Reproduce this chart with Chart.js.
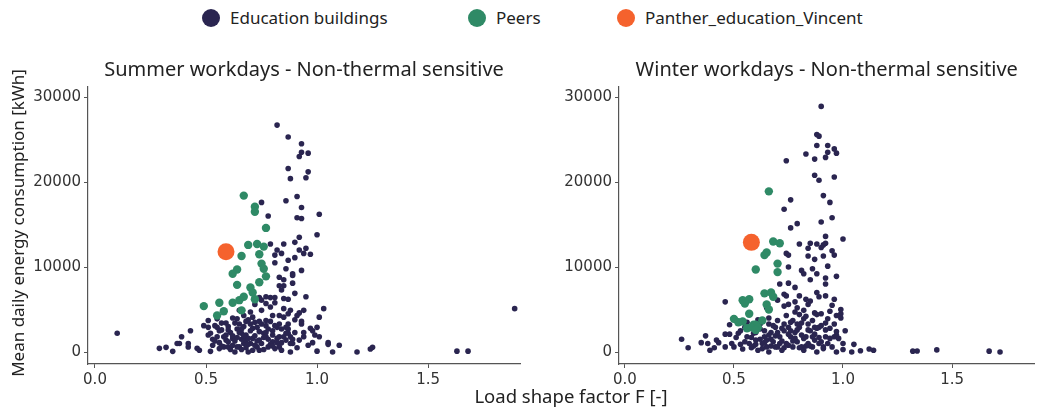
<!DOCTYPE html>
<html>
<head>
<meta charset="utf-8">
<script src="https://cdn.jsdelivr.net/npm/chart.js@4.4.1/dist/chart.umd.min.js"></script>
<style>
  body { margin: 0; background: #fff; font-family: "Noto Sans", sans-serif; color: #222; }
  #wrap { position: relative; width: 1043px; height: 410px; overflow: hidden; }
  canvas { position: absolute; }
  .leg { position: absolute; top: 6px; font-size: 17px; line-height: 24px; white-space: nowrap; color: #222; }
  .leg i { position: absolute; left: -28px; top: 3px; width: 18px; height: 18px; border-radius: 50%; }
  #xtitle { position: absolute; left: 371px; width: 400px; top: 383px; text-align: center; font-size: 18.5px; color: #222; }
  #ytitle { position: absolute; left: -182px; top: 211px; width: 400px; line-height: 24px; text-align: center;
            font-size: 17px; color: #222; transform: rotate(-90deg); }
</style>
</head>
<body>
<div id="wrap">
  <div class="leg" style="left:230px"><i style="background:#2a2550"></i>Education buildings</div>
  <div class="leg" style="left:496px"><i style="background:#2f8a66"></i>Peers</div>
  <div class="leg" style="left:645px"><i style="background:#f5622d"></i>Panther_education_Vincent</div>
  <canvas id="summer" width="530" height="350" style="left:0;top:40px"></canvas>
  <canvas id="winter" width="513" height="350" style="left:530px;top:40px"></canvas>
  <div id="xtitle">Load shape factor F [-]</div>
  <div id="ytitle">Mean daily energy consumption [kWh]</div>
</div>
<script>
const seriesNames = ["Education buildings", "Peers", "Panther_education_Vincent"];
const panelTitles = ["Summer workdays - Non-thermal sensitive", "Winter workdays - Non-thermal sensitive"];
const xTickValues = [0, 0.5, 1, 1.5];
const xTickLabels = ["0.0", "0.5", "1.0", "1.5"];
const yTickValues = [0, 10000, 20000, 30000];
const yTickLabels = ["0", "10000", "20000", "30000"];

// [load shape factor, mean daily consumption kWh]
const summerEducation = [
  [0.82,26700],[0.87,25300],[0.93,24500],[0.93,23500],[0.92,23000],[0.96,23400],[0.87,21600],[0.88,20400],
  [0.96,21200],[0.95,20500],[0.86,17800],[0.91,18300],[0.75,17600],[0.93,17000],[0.78,16000],[0.91,15800],
  [0.93,15700],[1.01,16200],[1.0,13800],[0.92,13500],[0.9,12900],[0.79,12700],[0.85,12700],[0.82,12000],
  [0.84,11600],[0.81,11400],[0.92,12000],[0.94,11600],[0.97,11500],[0.9,11100],[0.87,10800],[0.81,10500],
  [0.86,9800],[0.89,9200],[0.89,9000],[0.83,8800],[0.85,8500],[0.83,7800],[0.85,7800],[0.9,6900],
  [0.95,6500],[0.79,6400],[0.81,6400],[0.85,6300],[0.87,6200],[0.74,6400],[0.75,6100],[0.77,5700],
  [1.03,5100],[0.94,4900],[0.92,4600],[0.91,4300],[0.87,4500],[1.89,5100],[1.01,4100],[0.93,3300],
  [0.97,2800],[1.0,2900],[0.94,1800],[0.99,2000],[1.01,1800],[1.05,1100],[1.05,900],[1.1,800],
  [0.98,1100],[1.0,100],[1.07,0],[1.18,0],[1.24,350],[1.25,550],[1.63,100],[1.68,100],
  [0.1,2200],[0.29,430],[0.32,550],[0.35,80],[0.37,1000],[0.39,1800],[0.38,1000],[0.42,1000],
  [0.43,2500],[0.42,600],[0.46,430],[0.47,200],[0.49,3100],[0.51,3700],[0.51,2900],[0.51,2000],
  [0.52,80],[0.53,800],[0.54,3100],[0.55,1800],[0.56,2500],[0.56,400],[0.57,3400],[0.58,1800],
  [0.59,3400],[0.59,1400],[0.6,600],[0.61,2300],[0.62,4000],[0.62,1600],[0.63,0],[0.64,2700],
  [0.65,3300],[0.65,600],[0.66,2200],[0.67,4300],[0.67,1000],[0.68,1400],[0.69,0],[0.7,4700],
  [0.7,2500],[0.71,1600],[0.71,4100],[0.72,800],[0.73,2900],[0.74,1400],[0.74,200],[0.75,4900],
  [0.76,2200],[0.77,3700],[0.77,3100],[0.77,1800],[0.78,600],[0.79,5300],[0.8,4300],[0.8,2500],
  [0.8,1200],[0.82,2900],[0.83,4300],[0.83,1800],[0.83,600],[0.84,200],[0.84,2700],[0.85,4100],
  [0.86,1400],[0.87,2700],[0.87,2200],[0.88,1800],[0.88,0],[0.91,500],[0.89,1000],
  [0.52,2200],[0.53,1500],[0.55,2900],[0.56,1100],[0.57,2600],[0.58,600],[0.59,2000],[0.6,3000],
  [0.6,1200],[0.61,300],[0.62,1900],[0.63,3400],[0.63,1300],[0.64,600],[0.65,2300],[0.66,1500],
  [0.66,300],[0.67,3000],[0.68,2000],[0.68,500],[0.69,3800],[0.69,1600],[0.7,1000],[0.71,2800],
  [0.72,1900],[0.72,3500],[0.73,600],[0.74,2400],[0.75,1000],[0.75,3300],[0.76,300],[0.77,2300],
  [0.78,1500],[0.79,3600],[0.79,900],[0.8,2000],[0.81,400],[0.82,1600],[0.83,3300],[0.84,1100],
  [0.86,2200],[0.87,3300],[0.88,1000],[0.9,2300],[0.92,1400],[0.93,3600],[0.96,800],[0.98,2500],
  [0.55,3900],[0.58,4700],[0.65,4900],[0.72,5600],[0.77,6500],[0.81,5800],[0.85,5100],[0.88,4900],
  [0.84,7300],[0.89,8100],[0.93,9600],[0.95,12200],
  [0.54,1300],[0.57,700],[0.6,2600],[0.62,800],[0.64,1700],[0.66,2700],[0.67,1900],[0.69,900],
  [0.7,3300],[0.71,200],[0.73,1300],[0.74,3600],[0.76,1700],[0.78,2700],[0.8,700],[0.81,3100],
  [0.82,1100],[0.85,1800],[0.86,2900],[0.89,1500],[0.9,3800],[0.94,2300],[0.64,3900],[0.68,3600]
];
const summerPeers = [
  [0.67,18400],[0.72,17100],[0.72,16500],[0.77,14600],[0.69,12600],[0.73,12700],[0.76,12400],[0.74,11500],
  [0.66,11300],[0.75,10400],[0.76,9800],[0.64,9700],[0.62,9200],[0.77,8900],[0.64,7900],[0.74,8200],
  [0.7,7600],[0.71,7000],[0.67,6500],[0.65,6100],[0.62,5800],[0.72,6200],[0.56,5800],[0.49,5400],
  [0.58,4800],[0.55,4300],[0.66,4900]
];
const summerPanther = [[0.59,11800]];

const winterEducation = [
  [0.9,28900],[0.88,25600],[0.89,25400],[0.88,24300],[0.93,24300],[0.96,23900],[0.97,23400],[0.83,23300],
  [0.87,22700],[0.92,22900],[0.74,22500],[0.93,23500],[0.87,20800],[0.89,20200],[0.96,20600],[0.91,18400],
  [0.76,17900],[0.94,17600],[0.73,16800],[0.95,15800],[0.9,15300],[0.79,15100],[0.76,14600],[1.0,13300],
  [0.92,13600],[0.8,12700],[0.85,12800],[0.88,12700],[0.91,12600],[0.92,12800],[0.84,12200],[0.9,12300],
  [0.95,11900],[0.96,11400],[0.91,11300],[0.84,11300],[0.74,11600],[0.75,11400],[0.87,10900],[0.93,10100],
  [0.75,10000],[0.81,9600],[0.86,9800],[0.82,9200],[0.85,8500],[0.92,8700],[0.92,8000],[0.71,8000],
  [0.75,8100],[0.73,6800],[0.8,6600],[0.83,6200],[0.85,6000],[0.89,6500],[0.96,6200],[0.46,5900],
  [0.78,5900],[0.73,5400],[0.75,5600],[0.99,5000],[0.99,4500],[0.94,4800],[0.9,4500],[0.87,4600],
  [0.82,4900],[0.8,4400],[0.97,4300],[0.77,3700],[0.82,3900],[0.87,2900],[0.89,2900],[1.01,2500],
  [0.96,1800],[0.92,1800],[0.97,2000],[1.05,900],[1.0,300],[1.04,0],[1.08,150],[1.12,350],
  [1.14,200],[1.32,100],[1.34,120],[1.43,250],[1.67,100],[1.72,0],[0.26,1500],[0.29,500],
  [0.35,1100],[0.37,1900],[0.38,1000],[0.39,200],[0.41,500],[0.42,1400],[0.43,1100],[0.46,2100],
  [0.46,600],[0.48,3200],[0.48,2100],[0.49,1000],[0.5,600],[0.52,2200],[0.53,900],[0.54,350],
  [0.55,2900],[0.56,1800],[0.57,1000],[0.58,500],[0.59,2200],[0.6,1400],[0.61,200],[0.62,2700],
  [0.63,1000],[0.64,1800],[0.65,600],[0.66,3300],[0.66,0],[0.67,2300],[0.68,1200],[0.69,2900],
  [0.7,600],[0.71,1800],[0.72,200],[0.73,2500],[0.74,1000],[0.75,2900],[0.76,1800],[0.77,600],
  [0.78,2300],[0.79,1200],[0.8,2900],[0.81,600],[0.82,200],[0.83,1800],[0.84,1000],[0.85,2500],
  [0.86,600],[0.87,1400],[0.88,0],[0.89,1000],[0.91,600],[0.93,1000],[0.95,600],[0.97,0],[1.0,1000],
  [0.51,1700],[0.53,2500],[0.55,1200],[0.56,3500],[0.58,1700],[0.59,700],[0.6,2300],[0.61,3800],
  [0.62,1500],[0.63,400],[0.64,2500],[0.65,1400],[0.66,4000],[0.67,700],[0.68,3100],[0.69,1900],
  [0.7,3700],[0.71,1000],[0.72,2800],[0.73,500],[0.74,4300],[0.75,2100],[0.76,3500],[0.77,1300],
  [0.78,4700],[0.79,2600],[0.8,500],[0.81,3400],[0.82,1600],[0.83,4200],[0.84,2600],[0.85,700],
  [0.86,3700],[0.87,2100],[0.88,4400],[0.89,1700],[0.9,3100],[0.91,400],[0.92,2600],[0.93,3900],
  [0.94,1600],[0.96,3300],[0.97,2400],[0.99,4000],[0.65,5200],[0.7,6100],[0.74,6600],[0.79,5200],
  [0.84,5600],[0.88,7000],[0.92,6600],[0.95,5500],[0.97,8900],[0.78,7600],[0.88,9200],
  [0.6,900],[0.62,3300],[0.64,1100],[0.66,2000],[0.67,1500],[0.69,600],[0.7,2300],[0.72,1300],
  [0.73,3300],[0.75,800],[0.76,2500],[0.78,1600],[0.79,3300],[0.81,2000],[0.83,700],[0.84,3300],
  [0.86,1800],[0.88,2800],[0.9,1200],[0.92,3400],[0.94,2800],[0.98,1600]
];
const winterPeers = [
  [0.66,18900],[0.68,13000],[0.71,12800],[0.65,11700],[0.64,11400],[0.7,10400],[0.7,9400],[0.6,9700],
  [0.64,6900],[0.67,7000],[0.68,6500],[0.54,6100],[0.57,6200],[0.55,5700],[0.65,5600],[0.66,5000],
  [0.57,4500],[0.5,3900],[0.54,3600],[0.52,3500],[0.59,3200],[0.63,3700],[0.6,3200],[0.61,2900],
  [0.56,2800],[0.58,2900],[0.6,2600]
];
const winterPanther = [[0.58,12900]];

const FONT = "Noto Sans";
const TICK_FONT = "DejaVu Sans";
const toXY = arr => arr.map(p => ({ x: p[0], y: p[1] }));

function makePanel(id, title, edu, peers, panther, xMin, xMax, yWidth, padRight) {
  return new Chart(document.getElementById(id), {
    type: "scatter",
    data: {
      datasets: [
        { label: seriesNames[0], data: toXY(edu), backgroundColor: "#2a2550", pointRadius: 2.8, borderWidth: 0, order: 3 },
        { label: seriesNames[1], data: toXY(peers), backgroundColor: "#2f8a66", pointRadius: 4.2, borderWidth: 0, order: 2 },
        { label: seriesNames[2], data: toXY(panther), backgroundColor: "#f5622d", pointRadius: 8.5, borderWidth: 0, order: 1 },
      ],
    },
    options: {
      responsive: false,
      animation: false,
      layout: { padding: { left: 0, right: padRight, top: 0, bottom: 0 } },
      plugins: {
        legend: { display: false },
        tooltip: { enabled: false },
        title: {
          display: true,
          text: title,
          fullSize: false,
          color: "#222",
          font: { family: FONT, size: 20, weight: "normal" },
          padding: { top: 18, bottom: 5 },
        },
      },
      scales: {
        x: {
          type: "linear",
          bounds: "data",
          min: xMin,
          max: xMax,
          border: { display: true, color: "#555", width: 1.2 },
          grid: { drawOnChartArea: false, drawTicks: true, tickLength: 4, color: "#555" },
          ticks: {
            padding: 3,
            color: "#333",
            font: { family: TICK_FONT, size: 15 },
            callback: (v, i) => xTickLabels[i],
          },
          afterBuildTicks: s => { s.ticks = xTickValues.map(v => ({ value: v })); },
          afterFit: s => { s.height = 26; },
        },
        y: {
          type: "linear",
          bounds: "data",
          min: -1410,
          max: 31180,
          border: { display: true, color: "#555", width: 1.2 },
          grid: { drawOnChartArea: false, drawTicks: true, tickLength: 4, color: "#555" },
          ticks: {
            padding: 3,
            color: "#333",
            font: { family: TICK_FONT, size: 15 },
            callback: (v, i) => yTickLabels[i],
          },
          afterBuildTicks: s => { s.ticks = yTickValues.map(v => ({ value: v })); },
          afterFit: s => { s.width = yWidth; },
        },
      },
    },
  });
}

makePanel("summer", panelTitles[0], summerEducation, summerPeers, summerPanther, -0.0315, 1.914, 88, 10);
makePanel("winter", panelTitles[1], winterEducation, winterPeers, winterPanther, -0.027, 1.878, 89, 1);
</script>
</body>
</html>
